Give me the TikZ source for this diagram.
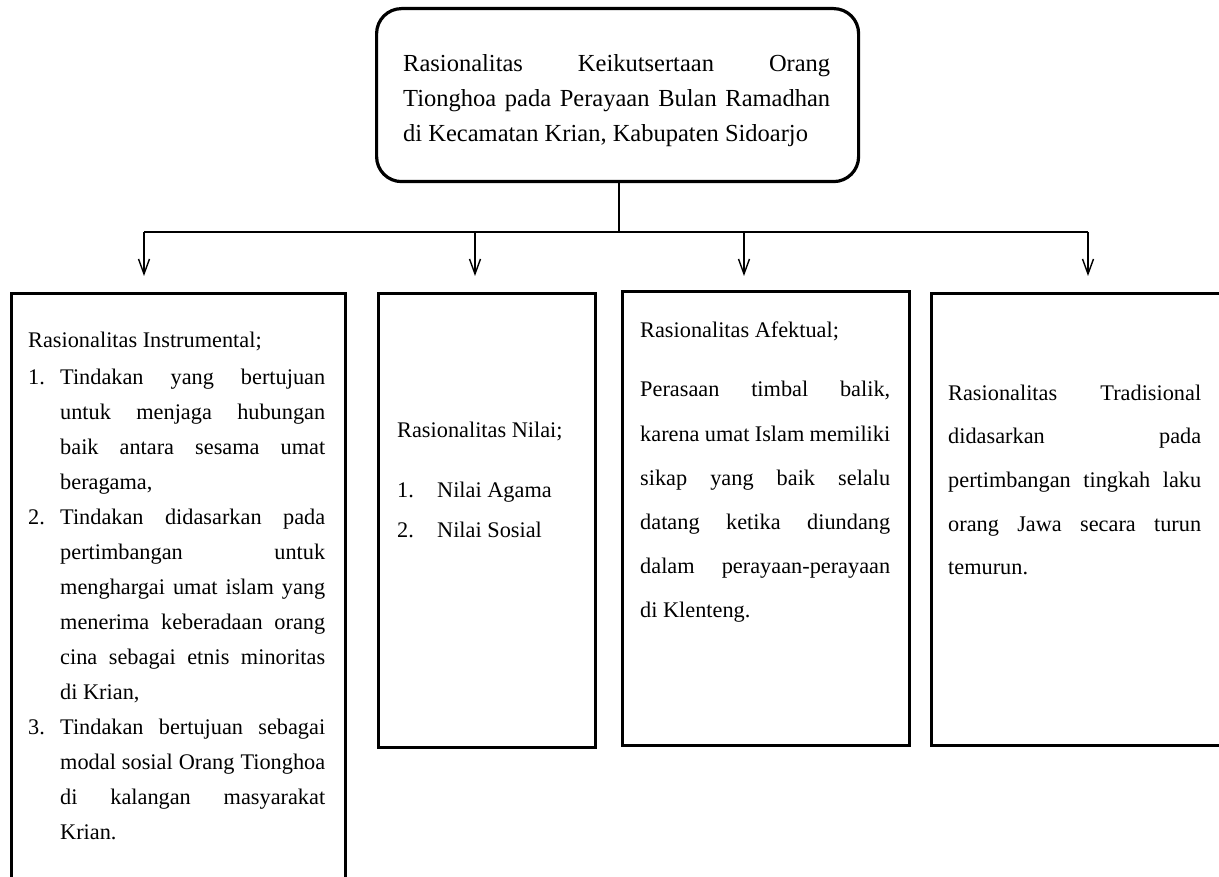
\documentclass[tikz,border=0pt]{standalone}
\usepackage{fontspec}
\setmainfont{Liberation Serif}
\usetikzlibrary{arrows.meta}
\newcommand\jl[2]{\makebox[#1][s]{#2}}
\begin{document}
\begin{tikzpicture}[x=1pt,y=-1pt,
  boxline/.style={draw, line width=3.2pt, inner sep=0pt, anchor=north west},
  conn/.style={line width=1.4pt},
  arr/.style={conn, -{Straight Barb[length=15pt,width=11pt,line width=1.4pt]}},
  txt/.style={inner sep=0pt, anchor=base west},
  small/.style={font=\fontsize{22.3}{35}\selectfont},
  big/.style={font=\fontsize{24.5}{35}\selectfont}]
\useasboundingbox (0,0) rectangle (1219,877);

% boxes
\node[boxline, rounded corners=25pt, minimum width=482pt, minimum height=173pt] (top) at (375,7) {};
\node[boxline, minimum width=334pt, minimum height=620pt] (b1) at (10,292) {};
\node[boxline, minimum width=217pt, minimum height=454pt] (b2) at (377,292) {};
\node[boxline, minimum width=287pt, minimum height=454pt] (b3) at (621,290) {};
\node[boxline, minimum width=290pt, minimum height=452pt] (b4) at (930,292) {};

% texts
\node[txt, big] (ttop) at (403,72) {\parbox[t]{427pt}{%
\jl{427pt}{Rasionalitas Keikutsertaan Orang}\\
\jl{427pt}{Tionghoa pada Perayaan Bulan Ramadhan}\\
di Kecamatan Krian, Kabupaten Sidoarjo}};

\node[txt, small] (t1) at (28,348) {\parbox[t]{297pt}{%
Rasionalitas Instrumental;\\[2pt]
\makebox[32pt][l]{1.}\jl{265pt}{Tindakan yang bertujuan}\\
\hspace*{32pt}\jl{265pt}{untuk menjaga hubungan}\\
\hspace*{32pt}\jl{265pt}{baik antara sesama umat}\\
\hspace*{32pt}beragama,\\
\makebox[32pt][l]{2.}\jl{265pt}{Tindakan didasarkan pada}\\
\hspace*{32pt}\jl{265pt}{pertimbangan untuk}\\
\hspace*{32pt}\jl{265pt}{menghargai umat islam yang}\\
\hspace*{32pt}\jl{265pt}{menerima keberadaan orang}\\
\hspace*{32pt}\jl{265pt}{cina sebagai etnis minoritas}\\
\hspace*{32pt}di Krian,\\
\makebox[32pt][l]{3.}\jl{265pt}{Tindakan bertujuan sebagai}\\
\hspace*{32pt}\jl{265pt}{modal sosial Orang Tionghoa}\\
\hspace*{32pt}\jl{265pt}{di kalangan masyarakat}\\
\hspace*{32pt}Krian.}};

\node[txt, small] (t2) at (397,438) {\parbox[t]{190pt}{%
Rasionalitas Nilai;\\[25pt]
\makebox[40pt][l]{1.}Nilai Agama\\[5pt]
\makebox[40pt][l]{2.}Nilai Sosial}};

\node[txt, font=\fontsize{22.3}{44.2}\selectfont] (t3) at (640,338) {\parbox[t]{250pt}{%
Rasionalitas Afektual;\\[14.8pt]
\jl{250pt}{Perasaan timbal balik,}\\
\jl{250pt}{karena umat Islam memiliki}\\
\jl{250pt}{sikap yang baik selalu}\\
\jl{250pt}{datang ketika diundang}\\
\jl{250pt}{dalam perayaan-perayaan}\\
di Klenteng.}};

\node[txt, font=\fontsize{22.3}{43.7}\selectfont] (t4) at (948,400) {\parbox[t]{253pt}{%
\jl{253pt}{Rasionalitas Tradisional}\\
\jl{253pt}{didasarkan pada}\\
\jl{253pt}{pertimbangan tingkah laku}\\
\jl{253pt}{orang Jawa secara turun}\\
temurun.}};

% connectors
\coordinate (j) at (619,232);
\coordinate (s1) at (144,232);
\coordinate (s2) at (475,232);
\coordinate (s3) at (744,232);
\coordinate (s4) at (1088,232);
\draw[conn] (top.south -| j) -- (j);
\draw[conn] (s1) -- (s4);
\draw[arr, shorten >=16pt] (s1) -- (s1 |- b1.north);
\draw[arr, shorten >=16pt] (s2) -- (s2 |- b2.north);
\draw[arr, shorten >=14pt] (s3) -- (s3 |- b3.north);
\draw[arr, shorten >=16pt] (s4) -- (s4 |- b4.north);
\end{tikzpicture}
\end{document}
